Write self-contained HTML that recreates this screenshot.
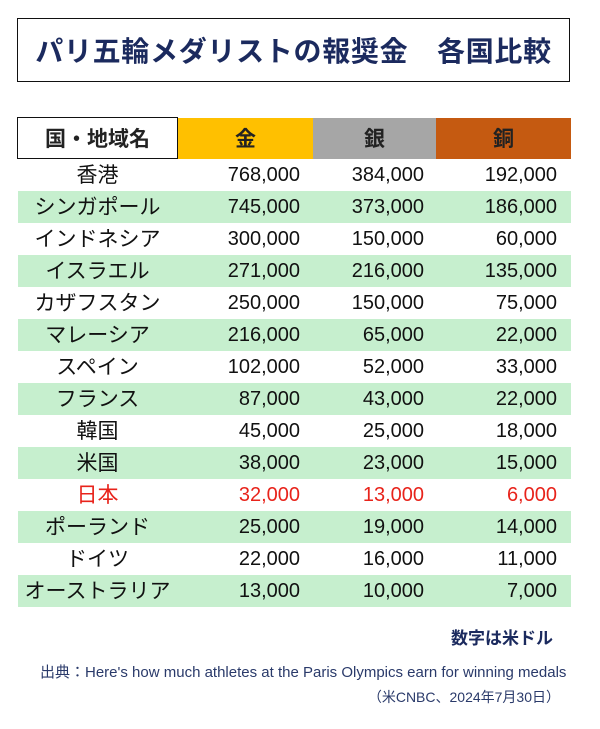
<!DOCTYPE html>
<html><head><meta charset="utf-8"><style>
body{margin:0;width:600px;height:729px;background:#fff;font-family:"Liberation Sans","Noto Sans CJK JP",sans-serif;position:relative;overflow:hidden}
.title{position:absolute;left:17px;top:18px;width:551px;height:62px;border:1.5px solid #111;display:flex;align-items:center;justify-content:center;color:#1b2a5e;font-weight:bold;font-size:28px;letter-spacing:0.7px;white-space:pre}
table{position:absolute;left:17px;top:117px;border-collapse:collapse;width:554px}
td{padding:0;height:32px;line-height:32px;font-size:20px;color:#111;vertical-align:middle;overflow:hidden}
td.n{font-size:21px;line-height:30px}
td.n span{position:relative;top:1px}
th{height:40px;font-size:21px;font-weight:bold;color:#222;padding:0}
td.n{text-align:center;width:160px;white-space:nowrap}
td.v{text-align:right}
tr.g td{background:#c6efce}
tr.r td{color:#e8231b}
.note{position:absolute;right:47px;top:624px;font-weight:bold;font-size:17px;color:#1b2a5e}
.src{position:absolute;left:40px;top:661px;font-size:15px;color:#2a3a6a;white-space:nowrap}
.date{position:absolute;right:40px;top:687px;font-size:14px;color:#2a3a6a}
</style></head><body>
<div class="title">パリ五輪メダリストの報奨金　各国比較</div>
<table>
<tr><th style="width:158px;border:1.5px solid #111;background:#fff">国・地域名</th><th style="width:135px;background:#ffc000">金</th><th style="width:123px;background:#a6a6a6">銀</th><th style="background:#c55a11">銅</th></tr>
<tr><td class="n"><span>香港</span></td><td class="v" style="padding-right:13px">768,000</td><td class="v" style="padding-right:12px">384,000</td><td class="v" style="padding-right:14px">192,000</td></tr>
<tr class="g"><td class="n"><span>シンガポール</span></td><td class="v" style="padding-right:13px">745,000</td><td class="v" style="padding-right:12px">373,000</td><td class="v" style="padding-right:14px">186,000</td></tr>
<tr><td class="n"><span>インドネシア</span></td><td class="v" style="padding-right:13px">300,000</td><td class="v" style="padding-right:12px">150,000</td><td class="v" style="padding-right:14px">60,000</td></tr>
<tr class="g"><td class="n"><span>イスラエル</span></td><td class="v" style="padding-right:13px">271,000</td><td class="v" style="padding-right:12px">216,000</td><td class="v" style="padding-right:14px">135,000</td></tr>
<tr><td class="n"><span>カザフスタン</span></td><td class="v" style="padding-right:13px">250,000</td><td class="v" style="padding-right:12px">150,000</td><td class="v" style="padding-right:14px">75,000</td></tr>
<tr class="g"><td class="n"><span>マレーシア</span></td><td class="v" style="padding-right:13px">216,000</td><td class="v" style="padding-right:12px">65,000</td><td class="v" style="padding-right:14px">22,000</td></tr>
<tr><td class="n"><span>スペイン</span></td><td class="v" style="padding-right:13px">102,000</td><td class="v" style="padding-right:12px">52,000</td><td class="v" style="padding-right:14px">33,000</td></tr>
<tr class="g"><td class="n"><span>フランス</span></td><td class="v" style="padding-right:13px">87,000</td><td class="v" style="padding-right:12px">43,000</td><td class="v" style="padding-right:14px">22,000</td></tr>
<tr><td class="n"><span>韓国</span></td><td class="v" style="padding-right:13px">45,000</td><td class="v" style="padding-right:12px">25,000</td><td class="v" style="padding-right:14px">18,000</td></tr>
<tr class="g"><td class="n"><span>米国</span></td><td class="v" style="padding-right:13px">38,000</td><td class="v" style="padding-right:12px">23,000</td><td class="v" style="padding-right:14px">15,000</td></tr>
<tr class="r"><td class="n"><span>日本</span></td><td class="v" style="padding-right:13px">32,000</td><td class="v" style="padding-right:12px">13,000</td><td class="v" style="padding-right:14px">6,000</td></tr>
<tr class="g"><td class="n"><span>ポーランド</span></td><td class="v" style="padding-right:13px">25,000</td><td class="v" style="padding-right:12px">19,000</td><td class="v" style="padding-right:14px">14,000</td></tr>
<tr><td class="n"><span>ドイツ</span></td><td class="v" style="padding-right:13px">22,000</td><td class="v" style="padding-right:12px">16,000</td><td class="v" style="padding-right:14px">11,000</td></tr>
<tr class="g"><td class="n"><span>オーストラリア</span></td><td class="v" style="padding-right:13px">13,000</td><td class="v" style="padding-right:12px">10,000</td><td class="v" style="padding-right:14px">7,000</td></tr>
</table>
<div class="note">数字は米ドル</div>
<div class="src">出典：Here's how much athletes at the Paris Olympics earn for winning medals</div>
<div class="date">（米CNBC、2024年7月30日）</div>
</body></html>
